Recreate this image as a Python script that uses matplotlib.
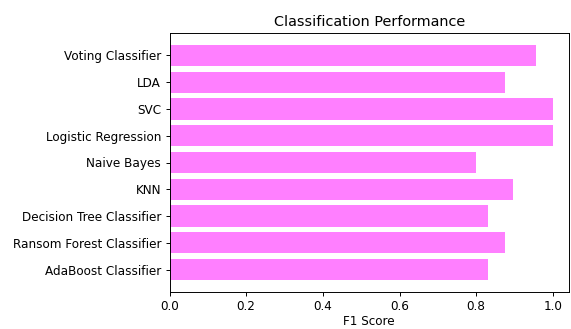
import matplotlib
matplotlib.use('Agg')
import matplotlib.pyplot as plt

# models listed bottom-up (first one ends up at the bottom of the chart)
models = ['AdaBoost Classifier', 'Ransom Forest Classifier', 'Decision Tree Classifier',
          'KNN', 'Naive Bayes', 'Logistic Regression', 'SVC', 'LDA', 'Voting Classifier']
f1_scores = [0.83, 0.875, 0.83, 0.895, 0.80, 1.0, 1.0, 0.875, 0.957]

DPI = 86.4  # reference looks like a 72dpi render scaled up ~1.2x
fig = plt.figure(figsize=(571 / DPI, 329 / DPI), dpi=DPI)
ax = fig.add_axes([169.5 / 571, 1 - 292 / 329, (569 - 169.5) / 571, (292 - 33) / 329])

ax.barh(range(len(models)), f1_scores, color='magenta', alpha=0.5)
ax.set_yticks(range(len(models)))
ax.set_yticklabels(models)
ax.set_xlim(0, 1.042)
ax.set_xlabel('F1 Score', labelpad=1.5)
ax.set_title('Classification Performance', fontsize=12)

fig.savefig('out.png', dpi=DPI)
plt.close(fig)
